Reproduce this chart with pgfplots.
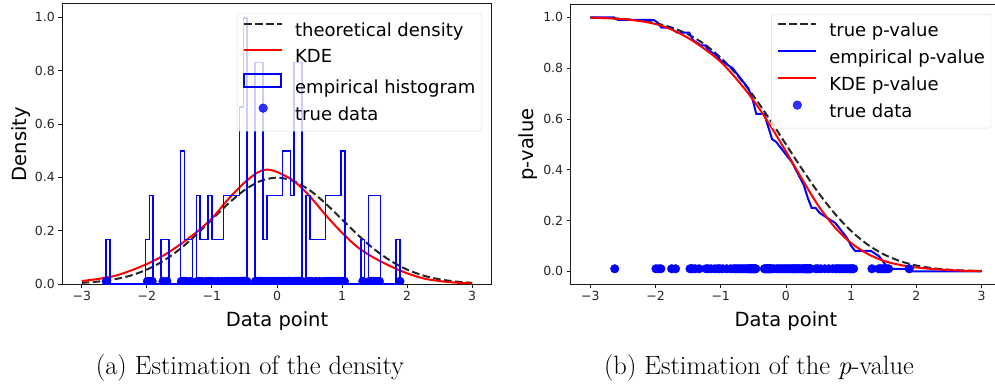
\documentclass[border=0pt]{standalone}
\usepackage{fontspec}
\newfontfamily\dejavu{DejaVu Sans}
\usepackage{pgfplots}
\pgfplotsset{compat=1.18}
\definecolor{mplblue}{rgb}{0,0,1}
\definecolor{mplred}{rgb}{1,0,0}
\definecolor{spine}{gray}{0.1}
\pgfplotsset{
  mplstyle/.style={
    scale only axis,
    axis line style={spine, line width=1pt},
    tick pos=left,
    tick align=outside,
    major tick length=4pt,
    every tick/.style={spine, line width=0.9pt},
    tick label style={font=\dejavu\fontsize{12.5}{14}\selectfont, color=black!85},
    label style={font=\dejavu\fontsize{19.5}{22}\selectfont, color=black},
    xmin=-3.3, xmax=3.3,
    xtick={-3,-2,-1,0,1,2,3},
    xticklabels={−3,−2,−1,0,1,2,3},
    ytick={0,0.2,0.4,0.6,0.8,1.0},
    yticklabels={0.0,0.2,0.4,0.6,0.8,1.0},
    xlabel={Data point},
    xlabel style={yshift=-4pt},
    clip marker paths=true,
    legend cell align=left,
    legend style={
      at={(1,1)}, anchor=north east, xshift=-10pt, yshift=-9.3pt,
      draw=black!15, rounded corners=2.5pt, fill=white, fill opacity=0.8, text opacity=1,
      font=\dejavu\fontsize{18}{20}\selectfont,
      inner xsep=6pt, inner ysep=6.5pt,
      row sep=6.7pt, column sep=0pt,
      nodes={inner ysep=0pt, inner xsep=0pt, text height=16pt, text depth=4pt},
    },
  },
  lineleg/.style={legend image code/.code={\draw[##1, sharp corners] (0pt,6.5pt) -- (38pt,6.5pt);\path[draw=none,fill=none] (0pt,6.5pt) -- (51pt,6.5pt);}},
  histleg/.style={legend image code/.code={\draw[##1, sharp corners] (0pt,0pt) rectangle (37pt,13pt);\path[draw=none,fill=none] (0pt,6.5pt) -- (51pt,6.5pt);}},
  dotleg/.style={legend image code/.code={\draw[##1, only marks] plot coordinates {(19pt,6.5pt)};\path[draw=none,fill=none] (0pt,6.5pt) -- (51pt,6.5pt);}},
  dotstyle/.style={mplblue, only marks, mark=*, mark size=4.3pt, mark options={draw=mplblue, fill=mplblue}, dotleg},
}
% the 100 observed data points (plotted at height 0.01)
\pgfplotstableread{
x y
-2.625 0.01
-1.993 0.01
-1.948 0.01
-1.918 0.01
-1.752 0.01
-1.692 0.01
-1.471 0.01
-1.451 0.01
-1.431 0.01
-1.391 0.01
-1.331 0.01
-1.225 0.01
-1.195 0.01
-1.150 0.01
-1.090 0.01
-1.045 0.01
-1.015 0.01
-0.970 0.01
-0.909 0.01
-0.849 0.01
-0.804 0.01
-0.774 0.01
-0.744 0.01
-0.714 0.01
-0.684 0.01
-0.654 0.01
-0.623 0.01
-0.593 0.01
-0.571 0.01
-0.556 0.01
-0.541 0.01
-0.526 0.01
-0.513 0.01
-0.503 0.01
-0.493 0.01
-0.483 0.01
-0.473 0.01
-0.463 0.01
-0.331 0.01
-0.319 0.01
-0.307 0.01
-0.295 0.01
-0.283 0.01
-0.271 0.01
-0.259 0.01
-0.247 0.01
-0.235 0.01
-0.223 0.01
-0.187 0.01
-0.142 0.01
-0.112 0.01
-0.082 0.01
-0.051 0.01
-0.021 0.01
0.009 0.01
0.039 0.01
0.069 0.01
0.094 0.01
0.114 0.01
0.134 0.01
0.154 0.01
0.174 0.01
0.194 0.01
0.219 0.01
0.249 0.01
0.271 0.01
0.283 0.01
0.295 0.01
0.307 0.01
0.319 0.01
0.331 0.01
0.343 0.01
0.355 0.01
0.367 0.01
0.379 0.01
0.460 0.01
0.490 0.01
0.535 0.01
0.596 0.01
0.656 0.01
0.716 0.01
0.761 0.01
0.791 0.01
0.821 0.01
0.851 0.01
0.882 0.01
0.912 0.01
0.942 0.01
0.972 0.01
0.997 0.01
1.017 0.01
1.037 0.01
1.318 0.01
1.423 0.01
1.453 0.01
1.484 0.01
1.514 0.01
1.544 0.01
1.574 0.01
1.890 0.01
}\truedata
\begin{document}
\begin{tikzpicture}[x=1pt,y=1pt]
% ---------------- (a) density ----------------
\begin{axis}[mplstyle,
  at={(62.3pt,-284pt)}, anchor=south west,
  width=429.4pt, height=280pt,
  ymin=0, ymax=1.05,
  ylabel={Density},
  ylabel style={yshift=-3pt},
]
\addplot[black!85, line width=2pt, dash pattern=on 7.5pt off 3.5pt, smooth, lineleg] coordinates {
(-3,0.0044)(-2.75,0.0091)(-2.5,0.0175)(-2.25,0.0317)(-2,0.0540)(-1.75,0.0863)(-1.5,0.1295)(-1.25,0.1826)(-1,0.2420)(-0.75,0.3011)(-0.5,0.3521)(-0.25,0.3867)(0,0.3989)(0.25,0.3867)(0.5,0.3521)(0.75,0.3011)(1,0.2420)(1.25,0.1826)(1.5,0.1295)(1.75,0.0863)(2,0.0540)(2.25,0.0317)(2.5,0.0175)(2.75,0.0091)(3,0.0044)};
\addlegendentry{theoretical density}
\addplot[mplred, line width=2pt, smooth, lineleg] coordinates {
(-3,0.011)(-2.75,0.019)(-2.5,0.030)(-2.25,0.050)(-2,0.075)(-1.75,0.106)(-1.5,0.146)(-1.25,0.192)(-1,0.246)(-0.75,0.318)(-0.5,0.380)(-0.3,0.418)(-0.16,0.429)(0,0.420)(0.25,0.388)(0.5,0.330)(0.75,0.258)(1,0.192)(1.25,0.136)(1.5,0.097)(1.75,0.066)(2,0.040)(2.25,0.021)(2.5,0.011)(2.75,0.005)(3,0.002)};
\addlegendentry{KDE}
\addplot[draw=mplblue, line width=1.5pt, line join=miter, histleg] coordinates {
(-2.625,0)(-2.625,0.1661)(-2.5648,0.1661)(-2.5648,0)
(-2.023,0)(-2.023,0.1661)(-1.9628,0.1661)(-1.9628,0.3322)(-1.9026,0.3322)(-1.9026,0)
(-1.7822,0)(-1.7822,0.1661)(-1.6618,0.1661)(-1.6618,0)
(-1.4812,0)(-1.4812,0.4983)(-1.421,0.4983)(-1.421,0.1661)(-1.3006,0.1661)(-1.3006,0)
(-1.2404,0)(-1.2404,0.3322)(-1.1802,0.3322)(-1.1802,0.1661)(-1.0598,0.1661)(-1.0598,0.3322)(-0.9996,0.3322)(-0.9996,0.1661)(-0.819,0.1661)(-0.819,0.3322)(-0.5782,0.3322)(-0.5782,0.6645)(-0.518,0.6645)(-0.518,0.9967)(-0.4578,0.9967)(-0.4578,0)
(-0.3374,0)(-0.3374,0.8306)(-0.217,0.8306)(-0.217,0.1661)(-0.1568,0.1661)(-0.1568,0.3322)(0.084,0.3322)(0.084,0.4983)(0.2044,0.4983)(0.2044,0.3322)(0.2646,0.3322)(0.2646,0.8306)(0.385,0.8306)(0.385,0)
(0.4452,0)(0.4452,0.3322)(0.5054,0.3322)(0.5054,0.1661)(0.7462,0.1661)(0.7462,0.3322)(0.987,0.3322)(0.987,0.4983)(1.0472,0.4983)(1.0472,0)
(1.288,0)(1.288,0.1661)(1.3482,0.1661)(1.3482,0)
(1.4084,0)(1.4084,0.3322)(1.589,0.3322)(1.589,0)
(1.8298,0)(1.8298,0.1661)(1.89,0.1661)(1.89,0)};
\addlegendentry{empirical histogram}
\addplot[dotstyle] table[x=x, y=y] {\truedata};
\addlegendentry{true data}
\end{axis}
% ---------------- (b) p-value ----------------
\begin{axis}[mplstyle,
  at={(570.7pt,-284pt)}, anchor=south west,
  width=430.5pt, height=279.3pt,
  ymin=-0.05, ymax=1.05,
  ylabel={p-value},
  ylabel style={yshift=-1pt},
]
\addplot[black!85, line width=2pt, dash pattern=on 7.5pt off 3.5pt, smooth, lineleg] coordinates {
(-3,0.9987)(-2.75,0.9970)(-2.5,0.9938)(-2.25,0.9878)(-2,0.9772)(-1.75,0.9599)(-1.5,0.9332)(-1.25,0.8944)(-1,0.8413)(-0.75,0.7734)(-0.5,0.6915)(-0.25,0.5987)(0,0.5)(0.25,0.4013)(0.5,0.3085)(0.75,0.2266)(1,0.1587)(1.25,0.1056)(1.5,0.0668)(1.75,0.0401)(2,0.0228)(2.25,0.0122)(2.5,0.0062)(2.75,0.0030)(3,0.0013)};
\addlegendentry{true p-value}
\addplot[mplblue, line width=2pt, lineleg] coordinates {
(-3.000,1.00)(-2.636,1.00)(-2.576,0.99)(-2.030,0.99)(-1.970,0.98)(-1.909,0.96)(-1.788,0.96)(-1.727,0.95)(-1.667,0.94)(-1.485,0.94)(-1.424,0.91)(-1.364,0.90)(-1.303,0.89)(-1.242,0.89)(-1.182,0.87)(-1.121,0.86)(-1.061,0.85)(-1.000,0.83)(-0.939,0.82)(-0.879,0.81)(-0.818,0.80)(-0.758,0.78)(-0.697,0.76)(-0.636,0.74)(-0.576,0.72)(-0.515,0.68)(-0.455,0.62)(-0.333,0.62)(-0.273,0.57)(-0.212,0.52)(-0.152,0.51)(-0.091,0.49)(-0.030,0.47)(0.030,0.45)(0.091,0.43)(0.152,0.40)(0.212,0.37)(0.273,0.34)(0.333,0.29)(0.394,0.25)(0.455,0.25)(0.515,0.23)(0.576,0.22)(0.636,0.21)(0.697,0.20)(0.758,0.19)(0.818,0.17)(0.879,0.15)(0.939,0.13)(1.000,0.10)(1.061,0.08)(1.303,0.08)(1.364,0.07)(1.424,0.06)(1.485,0.04)(1.545,0.02)(1.606,0.01)(1.848,0.01)(1.909,0.00)(3.000,0.00)};
\addlegendentry{empirical p-value}
\addplot[mplred, line width=2pt, smooth, lineleg] coordinates {
(-3,0.999)(-2.75,0.997)(-2.5,0.993)(-2.25,0.986)(-2,0.974)(-1.75,0.952)(-1.5,0.919)(-1.25,0.876)(-1,0.825)(-0.75,0.755)(-0.5,0.674)(-0.25,0.578)(0,0.472)(0.25,0.362)(0.5,0.257)(0.75,0.173)(1,0.111)(1.25,0.069)(1.5,0.041)(1.75,0.025)(2,0.015)(2.25,0.009)(2.5,0.005)(2.75,0.002)(3,0.001)};
\addlegendentry{KDE p-value}
\addplot[dotstyle] table[x=x, y=y] {\truedata};
\addlegendentry{true data}
\end{axis}
% captions
\node[anchor=base, font=\fontsize{26.5}{30}\selectfont] at (250pt,-374pt) {(a) Estimation of the density};
\node[anchor=base, font=\fontsize{26.5}{30}\selectfont] at (759pt,-374pt) {(b) Estimation of the \textit{p}-value};
\pgfresetboundingbox
\path[use as bounding box] (0pt,0pt) rectangle (995pt,-385pt);
\end{tikzpicture}
\end{document}
